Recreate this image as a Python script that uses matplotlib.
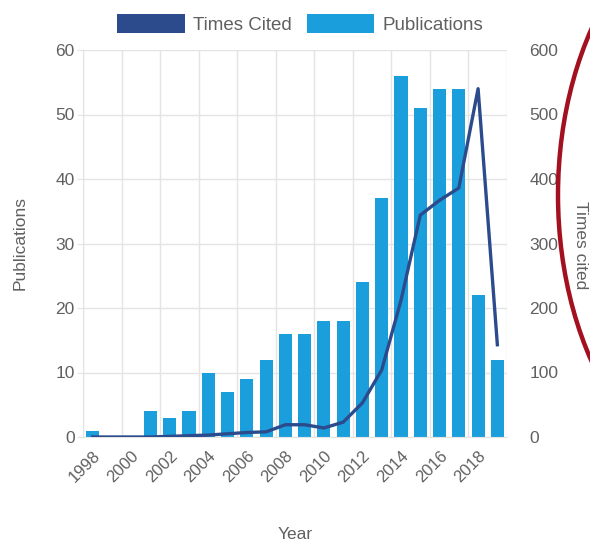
import matplotlib
matplotlib.use("Agg")
import matplotlib.pyplot as plt
from matplotlib.patches import Patch, Ellipse

years = list(range(1998, 2020))
publications = [1, 0, 0, 4, 3, 4, 10, 7, 9, 12, 16, 16, 18, 18, 24, 37, 56, 51, 54, 54, 22, 12]
times_cited = [0, 0, 0, 0, 1, 2, 3, 5, 7, 8, 19, 19, 14, 23, 53, 104, 212, 344, 367, 386, 540, 143]
tick_years = list(range(1998, 2019, 2))
left_ticks = [0, 10, 20, 30, 40, 50, 60]
right_ticks = [0, 100, 200, 300, 400, 500, 600]

plt.rcParams['font.family'] = ['Liberation Sans', 'DejaVu Sans']

W, H = 590, 544
fig = plt.figure(figsize=(W / 100, H / 100), dpi=100)
fig.patch.set_facecolor('white')
ax = fig.add_axes([83 / W, 1 - 437 / H, (507 - 83) / W, (437 - 50) / H])

bar_c = '#1b9fdc'
line_c = '#2b4b8c'
txt_c = '#606060'
grid_c = '#e4e4e4'

ax.bar(years, publications, width=0.68, color=bar_c, zorder=2)
ax.set_xlim(1997.5, 2019.5)
ax.set_ylim(0, 60)
ax.set_yticks(left_ticks)
ax.set_xticks(tick_years)
ax.set_xticklabels([str(y) for y in tick_years], rotation=45, ha='right',
                   rotation_mode='anchor', color=txt_c, fontsize=12)
ax.tick_params(axis='x', length=0, pad=8)
ax.tick_params(axis='y', length=4, color=grid_c, labelcolor=txt_c, labelsize=12.5, pad=2)
ax.set_xticks([1997.5 + 2 * k for k in range(12)], minor=True)
ax.tick_params(axis='x', which='minor', length=0)
ax.grid(axis='y', color=grid_c, linewidth=1, zorder=0)
ax.grid(axis='x', which='minor', color=grid_c, linewidth=1, zorder=0)
ax.grid(axis='x', which='major', visible=False)
for s in ['top', 'right']:
    ax.spines[s].set_visible(False)
for s in ['left', 'bottom']:
    ax.spines[s].set_color(grid_c)
ax.set_ylabel('Publications', color=txt_c, fontsize=12.5, labelpad=20)
ax.set_xlabel('Year', color=txt_c, fontsize=12.5, labelpad=30)

ax2 = ax.twinx()
ax2.plot(years, times_cited, color=line_c, linewidth=2.4, zorder=3, solid_joinstyle='round')
ax2.set_ylim(0, 600)
ax2.set_yticks(right_ticks)
ax2.tick_params(axis='y', length=0, labelcolor=txt_c, labelsize=12.5, pad=16)
for s in ['top', 'right', 'left', 'bottom']:
    ax2.spines[s].set_visible(False)
fig.text(580 / W, 1 - 245 / H, 'Times cited', color=txt_c, fontsize=12.5, rotation=-90,
         ha='center', va='center')

handles = [Patch(facecolor=line_c, edgecolor='none', label='Times Cited'),
           Patch(facecolor=bar_c, edgecolor='none', label='Publications')]
fig.legend(handles=handles, loc='center', bbox_to_anchor=(300 / W, 1 - 24 / H), ncol=2,
           frameon=False, fontsize=13.5, handlelength=3.6, handleheight=1.2,
           columnspacing=0.8, handletextpad=0.43, labelcolor=txt_c)

arc = Ellipse((758 / W, 1 - 195 / H), 400 / W, 600 / H, transform=fig.transFigure,
              fill=False, edgecolor='#a3101f', linewidth=3.2, clip_on=False, zorder=10)
fig.add_artist(arc)

fig.savefig('out.png', dpi=100, facecolor='white')
